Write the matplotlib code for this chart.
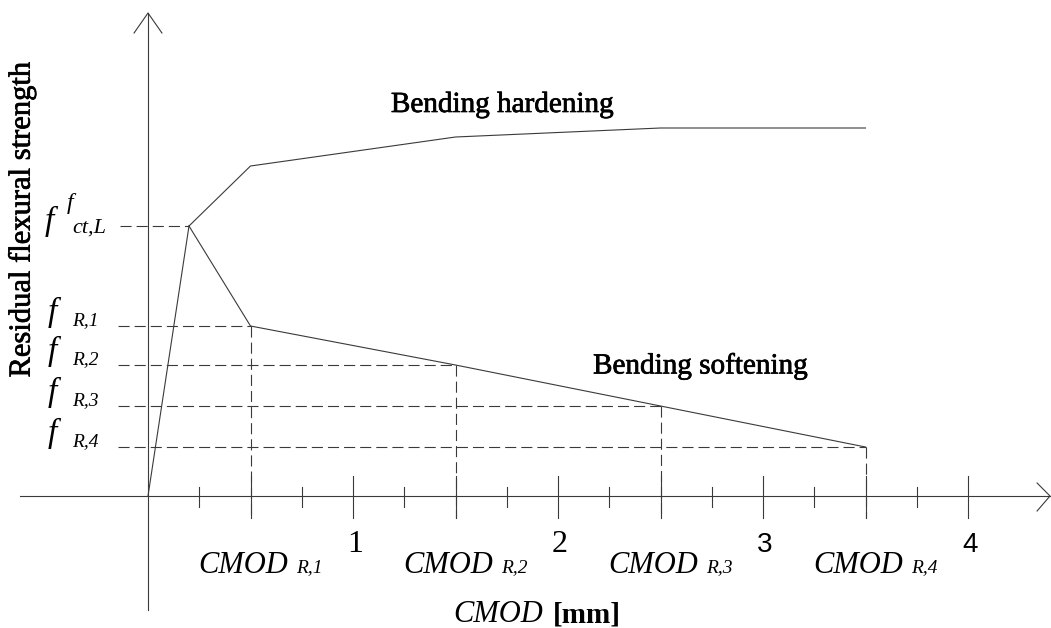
import matplotlib
matplotlib.use("Agg")
import matplotlib.pyplot as plt
import matplotlib.patheffects as pe

# Characteristic points of the residual flexural strength diagram
cmod_peak = 0.2
f_ctL = 2.70
cmod_R = [0.5, 1.5, 2.5, 3.5]
f_R = [1.70, 1.31, 0.90, 0.49]
f_R_labels = ["R,1", "R,2", "R,3", "R,4"]
cmod_R_labels = ["R,1", "R,2", "R,3", "R,4"]

# Hardening branch after the limit of proportionality
hard_cmod = [0.5, 1.5, 2.5, 3.5]
hard_f = [3.30, 3.59, 3.68, 3.68]

# Axis tick values (mm)
major_ticks = [0.5, 1.0, 1.5, 2.0, 2.5, 3.0, 3.5, 4.0]
minor_ticks = [0.25, 0.75, 1.25, 1.75, 2.25, 2.75, 3.25, 3.75]
tick_labels = ["1", "2", "3", "4"]
tick_values = [1, 2, 3, 4]

plt.rcParams["lines.scale_dashes"] = False
SERIF = "Liberation Serif"
SANS = "Liberation Sans"
LINE = "#3a3a3a"
DASH = (0, (8.0, 3.6))
HEAVY = [pe.withStroke(linewidth=0.5, foreground="black")]

fig = plt.figure(figsize=(10.51, 6.28), dpi=100)
ax = fig.add_axes([0, 0, 1, 1])
ax.set_xlim(-148 / 205, (1051 - 148) / 205)
ax.set_ylim(-1.32, 4.96)
ax.axis("off")


def label(x, y, s, **kw):
    kw.setdefault("family", SERIF)
    return ax.text(x, y, s, **kw)


lw = 0.8
# Axes with arrow heads
ax.plot([-0.624, 4.40], [0, 0], color=LINE, lw=lw)
ax.plot([4.337, 4.40, 4.337], [0.13, 0, -0.15], color=LINE, lw=lw)
ax.plot([0, 0], [-1.14, 4.83], color=LINE, lw=lw)
ax.plot([-0.068, 0, 0.068], [4.63, 4.83, 4.63], color=LINE, lw=lw)

for t in major_ticks:
    ax.plot([t, t], [0.20, -0.22], color=LINE, lw=lw)
for t in minor_ticks:
    ax.plot([t, t], [0.09, -0.11], color=LINE, lw=lw)

# Rising branch up to the limit of proportionality
ax.plot([0, cmod_peak], [0, f_ctL], color=LINE, lw=lw)
# Hardening branch
ax.plot([cmod_peak] + hard_cmod, [f_ctL] + hard_f, color=LINE, lw=lw)
# Softening branch
ax.plot([cmod_peak] + cmod_R, [f_ctL] + f_R, color=LINE, lw=lw)

# Reference dashed lines
ax.plot([-0.137, cmod_peak], [f_ctL, f_ctL], color=LINE, lw=lw, linestyle=DASH)
for c, f in zip(cmod_R, f_R):
    ax.plot([-0.147, c], [f, f], color=LINE, lw=lw, linestyle=DASH)
    ax.plot([c, c], [f, -0.22], color=LINE, lw=lw, linestyle=DASH)

# Axis titles
label(-0.615, 2.76, "Residual flexural strength", rotation=90,
      ha="center", va="center", fontsize=22, path_effects=HEAVY)
label(1.488, -1.26, "CMOD", ha="left", va="baseline",
      style="italic", fontsize=22)
label(1.975, -1.26, "[mm]", ha="left", va="baseline",
      fontsize=21, fontweight="bold")

# Branch captions
label(1.185, 3.91, "Bending hardening", ha="left", va="center",
      fontsize=21, path_effects=HEAVY)
label(2.171, 1.30, "Bending softening", ha="left", va="center",
      fontsize=21, path_effects=HEAVY)

# Tick numbers
for v, lab in zip(tick_values, tick_labels):
    fam = SERIF if v <= 2 else SANS
    size = 23 if v <= 2 else 20
    label(v + 0.01, -0.56, lab, ha="center", va="baseline",
          family=fam, fontsize=size)

# CMOD_R labels under the axis
for c, lab in zip(cmod_R, cmod_R_labels):
    label(c - 0.254, -0.77, "CMOD", ha="left", va="baseline",
          style="italic", fontsize=22)
    label(c + 0.222, -0.76, lab, ha="left", va="baseline",
          style="italic", fontsize=14)

# Strength labels on the vertical axis
for f, lab in zip(f_R, f_R_labels):
    label(-0.49, f + 0.05, "f", ha="left", va="baseline",
          style="italic", fontsize=24)
    label(-0.371, f + 0.01, lab, ha="left", va="baseline",
          style="italic", fontsize=14)

label(-0.503, f_ctL - 0.04, "f", ha="left", va="baseline",
      style="italic", fontsize=24)
label(-0.395, f_ctL + 0.17, "f", ha="left", va="baseline",
      style="italic", fontsize=17)
label(-0.371, f_ctL - 0.07, "ct,L", ha="left", va="baseline",
      style="italic", fontsize=16)

fig.savefig("out.png", dpi=100)
